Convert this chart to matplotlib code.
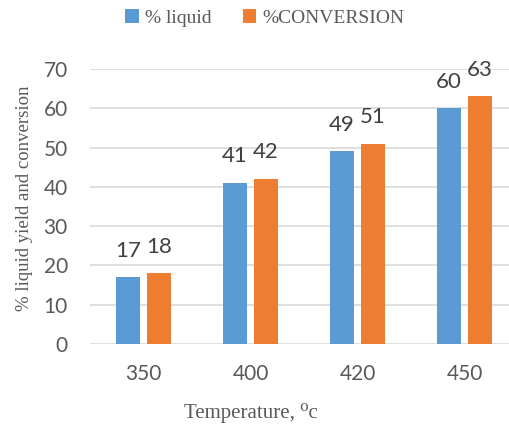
import matplotlib
matplotlib.use("Agg")
from matplotlib import pyplot as plt
import numpy as np

temps = ["350", "400", "420", "450"]
liquid = [17, 41, 49, 60]
conversion = [18, 42, 51, 63]

blue = "#5B9BD5"
orange = "#ED7D31"
grey = "#595959"
serif = ["Liberation Serif", "DejaVu Serif"]

fig = plt.figure(figsize=(5.09, 4.28), dpi=100)
ax = fig.add_axes([0.1768, 0.196, 0.841, 0.643])

x = np.arange(len(temps))
w = 0.224
off = 0.145
b1 = ax.bar(x - off, liquid, w, color=blue, label="% liquid", zorder=3)
b2 = ax.bar(x + off, conversion, w, color=orange, label="%CONVERSION", zorder=3)

for bars, vals in ((b1, liquid), (b2, conversion)):
    for r, v in zip(bars, vals):
        ax.annotate(str(v), (r.get_x() + r.get_width() / 2, v), xytext=(0, 12),
                    textcoords="offset points", ha="center", va="bottom",
                    fontsize=16, color="#404040", family="Lato")

ax.set_xlim(-0.5, 3.5)
ax.set_ylim(0, 70)
ax.set_yticks(range(0, 71, 10))
ax.set_xticks(x)
ax.set_xticklabels(temps)
ax.grid(axis="y", color="#d9d9d9", linewidth=1.2, zorder=0)
for s in ax.spines.values():
    s.set_visible(False)
ax.tick_params(length=0, labelsize=15, labelcolor=grey)
for lab in ax.get_xticklabels() + ax.get_yticklabels():
    lab.set_family("Lato")
ax.tick_params(axis="x", pad=14)
ax.tick_params(axis="y", pad=16)

ax.set_ylabel("% liquid yield and conversion", family=serif, fontsize=13.5,
              color=grey)
ax.yaxis.set_label_coords(-0.133, 0.53)
ax.set_xlabel("Temperature, \u2070c", family=serif, fontsize=15, color=grey)
ax.xaxis.set_label_coords(0.375, -0.215)

fig.legend(handles=[b1, b2], loc="center", bbox_to_anchor=(0.52, 0.958), ncol=2,
           frameon=False, prop={"family": serif, "size": 14}, handlelength=0.7,
           handleheight=0.7, handletextpad=0.3, columnspacing=1.6, labelcolor=grey)

fig.savefig("out.png", dpi=100)
